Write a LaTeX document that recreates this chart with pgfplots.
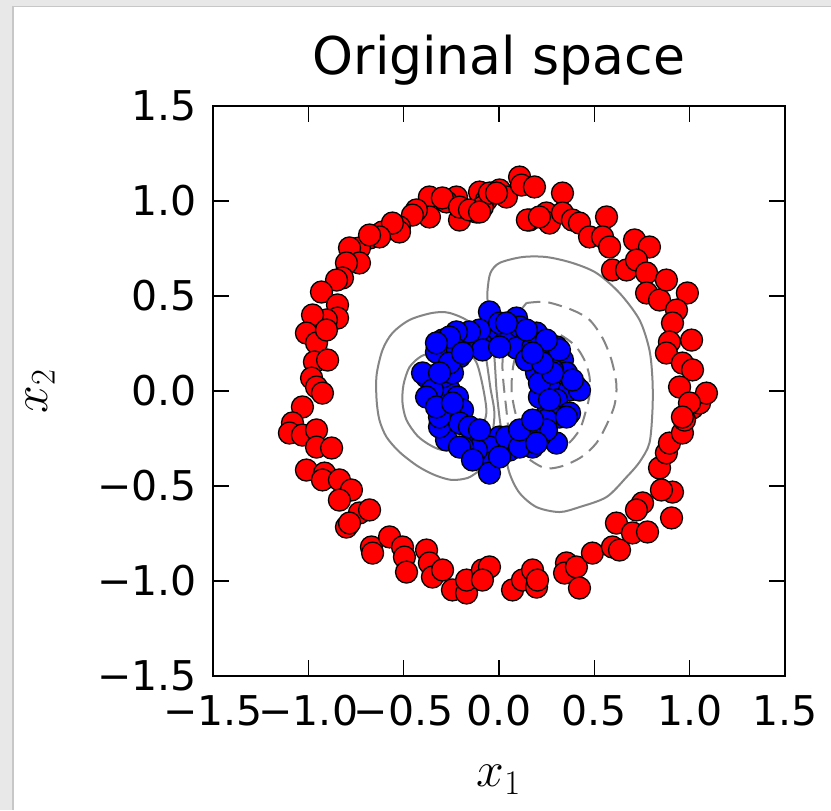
\documentclass[border=0pt]{standalone}
\usepackage{pgfplots}
\pgfplotsset{compat=1.18}
\usepackage{fontspec}
\setmainfont{DejaVu Sans}
\begin{document}
\begin{tikzpicture}
\useasboundingbox (-106.5pt,-67pt) rectangle (309pt,338pt);
\fill[black!9] (-106.5pt,-67pt) rectangle (309pt,338pt);
\fill[black!22] (-100.5pt,-67pt) rectangle (309pt,335pt);
\fill[white] (-99.5pt,-67pt) rectangle (309pt,334.5pt);
\begin{axis}[
  at={(0,0)}, anchor=south west,
  scale only axis, width=286pt, height=285pt,
  xmin=-1.5, xmax=1.5, ymin=-1.5, ymax=1.5,
  xtick={-1.5,-1,-0.5,0,0.5,1,1.5},
  xticklabels={−1.5,−1.0,−0.5,0.0,0.5,1.0,1.5},
  ytick={-1.5,-1,-0.5,0,0.5,1,1.5},
  yticklabels={−1.5,−1.0,−0.5,0.0,0.5,1.0,1.5},
  tick align=inside, major tick length=8pt,
  every tick/.style={black, line width=0.6pt},
  axis line style={line width=1pt},
  ticklabel style={font=\fontsize{20.5}{24}\selectfont},
  xticklabel style={inner sep=0pt, anchor=north, yshift=-9.5pt},
  yticklabel style={inner sep=0pt, anchor=east, xshift=-8pt},
  title={Original space},
  title style={font=\fontsize{26}{30}\selectfont, at={(axis description cs:0.5,1.035)}, anchor=base, inner sep=0pt},
  xlabel={$x_1$}, ylabel={$x_2$},
  xlabel style={font=\fontsize{25}{30}\selectfont, at={(axis description cs:0.5,-0.182)}, anchor=center, inner sep=0pt},
  ylabel style={font=\fontsize{25}{30}\selectfont, at={(axis description cs:-0.302,0.5)}, anchor=center, inner sep=0pt},
]
% contours
\addplot[black!48, line width=1pt, smooth, tension=0.5] coordinates {
(0.003,-0.142) (-0.013,0.005) (-0.024,0.174) (-0.045,0.374) (-0.060,0.479) (-0.060,0.532)
(-0.045,0.621) (0.003,0.674) (0.123,0.705) (0.249,0.705) (0.385,0.674) (0.511,0.621)
(0.632,0.516) (0.737,0.374) (0.789,0.216) (0.805,0.058) (0.805,-0.100) (0.789,-0.274)
(0.737,-0.374) (0.669,-0.453) (0.564,-0.558) (0.422,-0.611) (0.317,-0.637) (0.197,-0.611)
(0.108,-0.537) (0.055,-0.432) (0.024,-0.284) (0.003,-0.142)};
\addplot[black!48, line width=1pt, smooth, tension=0.5] coordinates {
(-0.113,-0.426) (-0.165,-0.458) (-0.249,-0.468) (-0.338,-0.442) (-0.427,-0.395) (-0.522,-0.321)
(-0.590,-0.242) (-0.627,-0.153) (-0.642,-0.047) (-0.642,0.084) (-0.611,0.216) (-0.559,0.305)
(-0.469,0.374) (-0.349,0.411) (-0.260,0.411) (-0.155,0.363) (-0.087,0.268) (-0.066,0.163)
(-0.045,0.016) (-0.024,-0.126) (-0.050,-0.300) (-0.113,-0.426)};
\addplot[black!48, line width=1pt, smooth, tension=0.5] coordinates {
(-0.328,0.205) (-0.406,0.184) (-0.469,0.126) (-0.501,0.032) (-0.506,-0.063) (-0.485,-0.153)
(-0.427,-0.237) (-0.354,-0.289) (-0.286,-0.311) (-0.181,-0.284) (-0.102,-0.205) (-0.066,-0.100)
(-0.113,0.137) (-0.181,0.216) (-0.260,0.226) (-0.328,0.205)};
\addplot[black!48, line width=1pt, smooth, tension=0.5, dash pattern=on 7pt off 4pt] coordinates {
(0.144,0.463) (0.249,0.468) (0.385,0.426) (0.475,0.374) (0.543,0.279) (0.590,0.163)
(0.616,0.032) (0.606,-0.074) (0.564,-0.179) (0.511,-0.274) (0.433,-0.347) (0.333,-0.395)
(0.239,-0.405) (0.134,-0.337) (0.055,-0.205) (0.039,-0.100) (0.018,0.137) (0.045,0.321) (0.144,0.463)};
\addplot[black!48, line width=1pt, smooth, tension=0.5, dash pattern=on 7pt off 4pt] coordinates {
(0.212,0.311) (0.302,0.305) (0.396,0.242) (0.448,0.163) (0.475,0.074) (0.475,-0.021)
(0.454,-0.111) (0.422,-0.205) (0.354,-0.284) (0.254,-0.311) (0.160,-0.258) (0.097,-0.153)
(0.066,0.005) (0.081,0.163) (0.134,0.268) (0.212,0.311)};
% outer ring (red)
\addplot[only marks, mark=*, mark size=5.5pt, mark options={fill=red, draw=black, line width=0.65pt}] coordinates {
(-0.102,1.047) (-0.066,1.005) (-0.034,1.042) (-0.118,0.942) (-0.207,0.900) (-0.223,1.021)
(-0.275,0.995) (-0.365,1.021) (-0.365,0.916) (-0.433,0.953) (-0.454,0.926) (-0.522,0.863)
(-0.611,0.837) (-0.522,0.837) (-0.679,0.805) (-0.732,0.753) (-0.784,0.753) (-0.732,0.674)
(-0.800,0.674) (-0.821,0.595) (-0.852,0.584) (-0.931,0.521) (-0.847,0.453) (-0.847,0.384)
(-0.905,0.374) (-0.978,0.400) (-1.010,0.305) (-0.957,0.253) (-0.905,0.321) (-0.968,0.153)
(-0.899,0.163) (-0.983,0.068) (-0.957,0.021) (-0.926,-0.011) (-1.031,-0.084) (-1.083,-0.168)
(-1.099,-0.221) (-1.031,-0.232) (-0.957,-0.205) (-0.957,-0.295) (-0.878,-0.300)
(-1.010,-0.416) (-0.915,-0.432) (-0.926,-0.468) (-0.837,-0.468) (-0.774,-0.521) (-0.837,-0.574)
(-0.732,-0.642) (-0.679,-0.626) (-0.800,-0.716) (-0.784,-0.695) (-0.669,-0.821) (-0.663,-0.853)
(-0.574,-0.768) (-0.506,-0.821) (-0.496,-0.874) (-0.485,-0.953) (-0.380,-0.837) (-0.365,-0.905)
(-0.349,-0.979) (-0.296,-0.942) (-0.244,-1.047) (-0.170,-1.063) (-0.170,-0.995) (-0.087,-0.942)
(-0.050,-0.926)
(-0.087,-0.995) (0.071,-1.047) (0.123,-0.995) (0.176,-0.942) (0.197,-1.032) (0.202,-0.995)
(0.354,-0.905) (0.344,-0.958) (0.406,-0.926) (0.422,-1.037) (0.490,-0.853) (0.616,-0.695)
(0.595,-0.821) (0.632,-0.837) (0.700,-0.747) (0.779,-0.742) (0.753,-0.589) (0.721,-0.626)
(0.842,-0.405) (0.878,-0.326) (0.910,-0.532) (0.852,-0.521) (0.905,-0.668) (0.894,-0.274)
(0.962,-0.221) (1.015,-0.089) (1.052,-0.063) (0.973,-0.153)
(-0.087,0.968) (-0.050,1.042) (0.003,1.058) (0.039,1.021) (0.108,1.126) (0.118,1.084)
(0.186,1.074) (0.160,0.900) (0.249,0.937) (0.265,0.884) (0.333,1.042) (0.333,0.937)
(0.385,0.900) (0.422,0.884) (0.475,0.811) (0.564,0.916) (0.543,0.811) (0.580,0.758)
(0.595,0.637) (0.669,0.637) (0.711,0.795) (0.789,0.758) (0.721,0.689) (0.774,0.621)
(0.774,0.516) (0.842,0.479) (0.878,0.584) (0.988,0.516) (0.931,0.426) (0.910,0.358)
(1.010,0.268) (0.894,0.258) (0.878,0.200) (0.962,0.147) (1.015,0.111) (1.088,-0.011)
(0.947,0.021) (0.999,-0.063) (0.962,-0.137)
(-0.297,1.016) (-0.207,0.968) (-0.155,0.953) (-0.102,0.942) (-0.013,1.042) (0.149,0.900)
(0.212,0.916) (-0.559,0.884) (-0.627,0.811) (-0.679,0.821)};
% inner ring (blue)
\addplot[only marks, mark=*, mark size=5.5pt, mark options={fill=blue, draw=black, line width=0.65pt}] coordinates {
(0.275,0.005) (0.259,0.099) (0.211,0.181) (0.139,0.242) (0.050,0.275) (-0.045,0.275)
(-0.134,0.242) (-0.206,0.181) (-0.254,0.099) (-0.270,0.005) (-0.254,-0.088) (-0.206,-0.170)
(-0.134,-0.232) (-0.045,-0.264) (0.050,-0.264) (0.139,-0.232) (0.211,-0.170) (0.259,-0.088)
(-0.050,0.416) (0.092,0.384) (0.003,0.311) (0.039,0.268) (0.144,0.268) (0.108,0.337)
(0.197,0.305) (-0.102,0.321) (-0.155,0.311) (-0.223,0.311) (-0.296,0.268) (-0.328,0.205)
(-0.218,0.216) (-0.087,0.216) (0.092,0.226) (0.176,0.226) (0.249,0.189) (0.302,0.232)
(0.333,0.163) (0.354,0.095) (0.281,0.111) (0.212,0.126) (0.197,0.095) (0.406,0.021)
(0.370,0.005) (0.302,-0.047) (0.317,-0.137) (0.249,-0.153) (0.370,-0.116) (0.302,-0.274)
(0.212,-0.242) (0.249,-0.205) (0.176,-0.295) (0.108,-0.242) (0.055,-0.311) (0.003,-0.242)
(-0.050,-0.295) (-0.050,-0.379) (-0.050,-0.432) (-0.118,-0.311) (-0.191,-0.295) (-0.275,-0.258)
(-0.312,-0.189) (-0.275,-0.063) (-0.260,0.005) (-0.296,0.074) (-0.380,0.074) (-0.401,0.095)
(-0.349,0.005) (-0.244,0.095) (-0.218,-0.032) (-0.191,-0.100) (-0.207,-0.168) (-0.155,-0.189)
(-0.312,-0.137) (0.039,-0.242) (0.160,-0.189) (0.212,-0.032) (0.212,0.042) (0.144,0.163)
(0.003,0.358) (-0.260,0.147)
(-0.380,-0.032) (-0.328,-0.084) (-0.207,-0.295) (-0.139,-0.363) (0.003,-0.347) (0.108,-0.295)
(0.197,-0.274) (0.354,-0.137) (0.422,0.005) (0.385,0.058) (0.317,0.216) (0.249,0.268)
(0.144,0.321) (0.039,0.358) (-0.260,0.284) (-0.328,0.253) (-0.312,0.095) (-0.244,-0.063)
(-0.102,-0.205) (0.108,-0.205) (0.176,-0.153) (0.265,-0.047) (0.281,0.095) (0.228,0.147)
(0.176,0.200) (0.003,0.232) (-0.191,0.200)};
\end{axis}
\end{tikzpicture}
\end{document}
